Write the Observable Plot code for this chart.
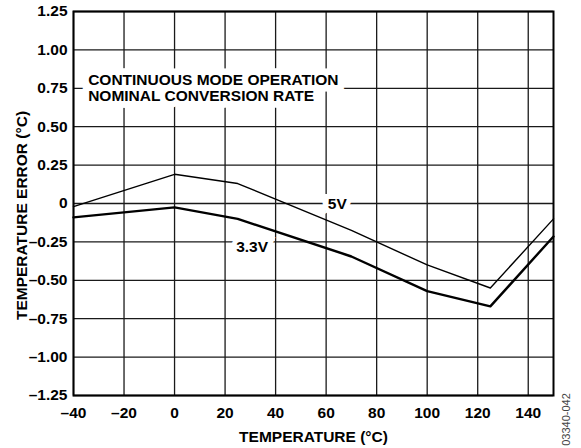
<!DOCTYPE html>
<html>
<head>
<meta charset="utf-8">
<script src="https://cdn.jsdelivr.net/npm/d3@7"></script>
<script src="https://cdn.jsdelivr.net/npm/@observablehq/plot@0.6"></script>
<style>
  html, body { margin: 0; padding: 0; background: #fff; }
</style>
</head>
<body>
<div id="chart"></div>
<script>
// Data
const temps = [-40, 0, 25, 70, 100, 125, 150];
const err5V = [-0.02, 0.19, 0.13, -0.175, -0.40, -0.55, -0.10];
const err33V = [-0.09, -0.025, -0.10, -0.345, -0.57, -0.67, -0.215];

const xTicks = [-40, -20, 0, 20, 40, 60, 80, 100, 120, 140];
const yTicks = [-1.25, -1.0, -0.75, -0.5, -0.25, 0, 0.25, 0.5, 0.75, 1.0, 1.25];

const xLabel = "TEMPERATURE (°C)";
const yLabel = "TEMPERATURE ERROR (°C)";
const noteText = ["CONTINUOUS MODE OPERATION", "NOMINAL CONVERSION RATE"];
const noteX = [-34.2, -34.2];
const noteY = [0.803, 0.699];
const seriesLabels = ["5V", "3.3V"];
const labelX = [64.4, 30.7];
const labelY = [-0.005, -0.283];
const figId = "03340-042";

const s5 = temps.map((t, i) => ({t, e: err5V[i]}));
const s33 = temps.map((t, i) => ({t, e: err33V[i]}));
const notes = noteText.map((s, i) => ({s, x: noteX[i], y: noteY[i]}));
const labs = seriesLabels.map((s, i) => ({s, x: labelX[i], y: labelY[i]}));

const dash = s => s.replace("-", "\u2013");
const font = "'Liberation Sans', Arial, Helvetica, sans-serif";
const noteOpts = {x: "x", y: "y", text: "s", textAnchor: "start", lineAnchor: "middle", fontSize: 15.5, fontWeight: "bold", letterSpacing: "0.3px"};
const labOpts = {x: "x", y: "y", text: "s", textAnchor: "middle", lineAnchor: "middle", fontSize: 15.5, fontWeight: "bold"};

const chart = Plot.plot({
  width: 581,
  height: 448,
  marginLeft: 73,
  marginRight: 28,
  marginTop: 11,
  marginBottom: 53,
  style: {fontFamily: font, fontWeight: "bold", fontSize: "15.5px", color: "#000", background: "#fff"},
  x: {domain: [-40, 150]},
  y: {domain: [-1.25, 1.25]},
  marks: [
    Plot.gridX(xTicks, {stroke: "#1a1a1a", strokeOpacity: 1, strokeWidth: 1.3}),
    Plot.gridY(yTicks, {stroke: "#1a1a1a", strokeOpacity: 1, strokeWidth: 1.3}),
    Plot.axisX(xTicks, {tickSize: 0, tickPadding: 11, tickFormat: d => dash(String(d)), label: null, fontSize: 15.5, fontWeight: "bold"}),
    Plot.axisY(yTicks, {tickSize: 0, tickPadding: 6, tickFormat: d => d === 0 ? "0" : dash(d.toFixed(2)), label: null, fontSize: 15.5, fontWeight: "bold"}),
    // white backgrounds behind annotations
    Plot.text(notes, {...noteOpts, fill: "#fff", stroke: "#fff", strokeWidth: 13, strokeLinejoin: "miter"}),
    Plot.text(labs, {...labOpts, fill: "#fff", stroke: "#fff", strokeWidth: 10, strokeLinejoin: "miter"}),
    Plot.text(notes, {...noteOpts, fill: "#000"}),
    Plot.text(labs, {...labOpts, fill: "#000"}),
    Plot.line(s5, {x: "t", y: "e", stroke: "#000", strokeWidth: 1.4}),
    Plot.line(s33, {x: "t", y: "e", stroke: "#000", strokeWidth: 2.4}),
    Plot.frame({stroke: "#000", strokeWidth: 2}),
    Plot.text([xLabel], {frameAnchor: "bottom", dy: 42, textAnchor: "middle", lineAnchor: "middle", fontSize: 15.5, fontWeight: "bold", fill: "#000", letterSpacing: "0.3px"}),
    Plot.text([yLabel], {frameAnchor: "left", dx: -51, dy: 12, rotate: -90, textAnchor: "middle", lineAnchor: "middle", fontSize: 15.5, fontWeight: "bold", fill: "#000", letterSpacing: "1px"}),
    Plot.text([figId], {frameAnchor: "bottom-right", dx: 13, dy: 24, rotate: -90, textAnchor: "middle", lineAnchor: "middle", fontSize: 11, fontWeight: "normal", fill: "#444"})
  ]
});
document.getElementById("chart").appendChild(chart);
</script>
</body>
</html>
